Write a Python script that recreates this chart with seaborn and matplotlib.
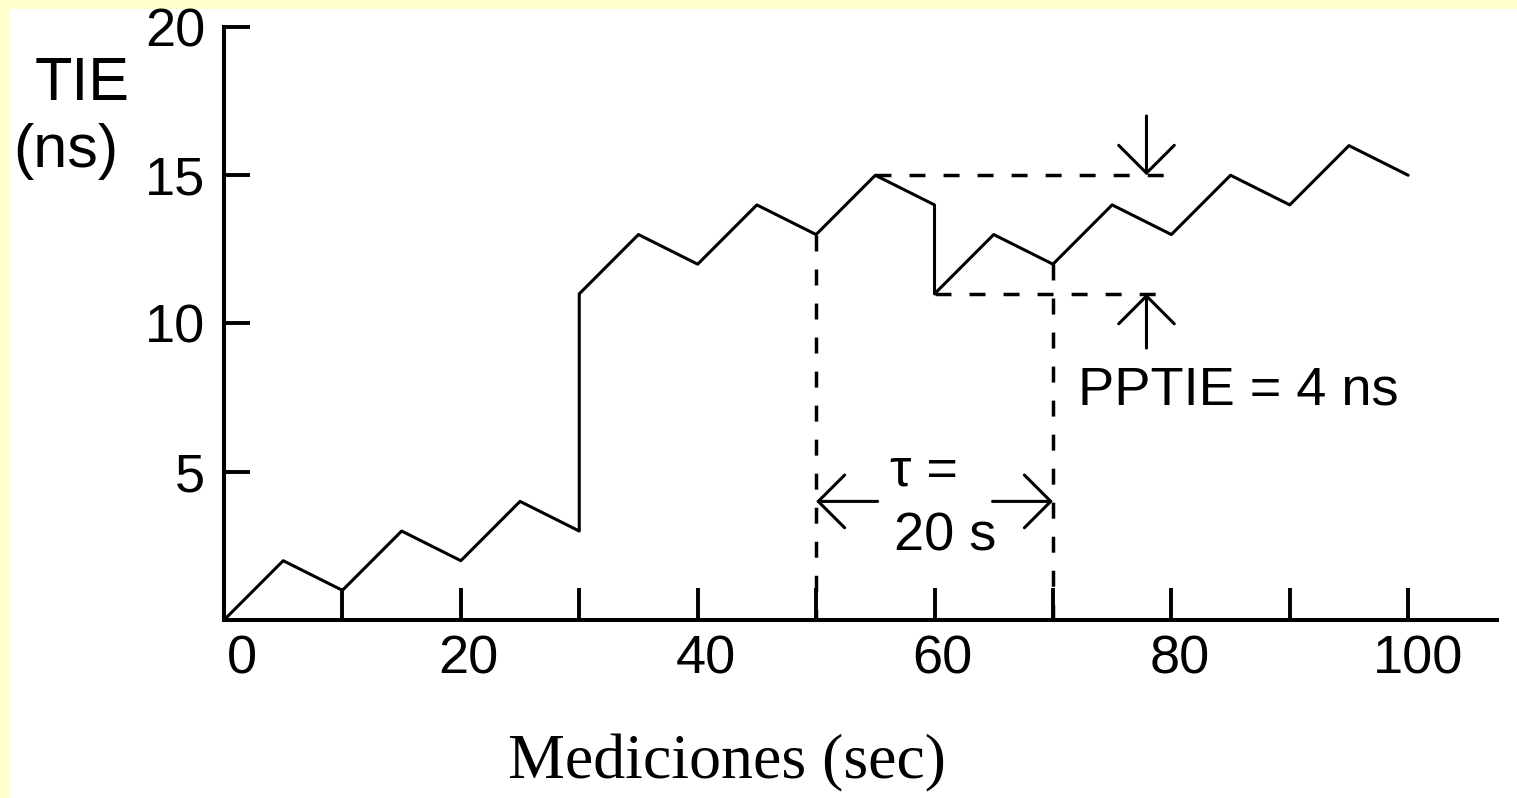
import matplotlib
matplotlib.use("Agg")
import matplotlib.pyplot as plt
import numpy as np
import pandas as pd
import seaborn as sns
from matplotlib.patches import Rectangle
from matplotlib.transforms import ScaledTranslation

# ---- data ----
t_sec = [0, 5, 10, 15, 20, 25, 30, 30, 35, 40, 45, 50, 55, 60, 60, 65, 70, 75, 80, 85, 90, 95, 100]
tie_ns = [0, 2, 1, 3, 2, 4, 3, 11, 13, 12, 14, 13, 15, 14, 11, 13, 12, 14, 13, 15, 14, 16, 15]
x_major = [0, 20, 40, 60, 80, 100]
x_minor = [10, 30, 50, 70, 90]
y_ticks = [5, 10, 15, 20]
y_labels = ["5", "10", "15", "20"]

tau_start, tau_end = 50, 70
tie_tau_start, tie_tau_end = 13, 12
pp_max_x, pp_max = 55, 15
pp_min_x, pp_min = 60, 11
pptie = 4
tau = 20

sns.set_theme(style="white")
plt.rcParams["font.family"] = ["Liberation Sans", "DejaVu Sans"]
plt.rcParams["lines.scale_dashes"] = False

W, H = 1517, 798
fig = plt.figure(figsize=(W / 100, H / 100), dpi=100)
fig.patch.set_facecolor("#FFFFCC")
fig.add_artist(Rectangle((10 / W, 0), 1, 1 - 9 / H, transform=fig.transFigure,
                         facecolor="white", edgecolor="none", zorder=-10))

ax = fig.add_axes([224 / W, 178 / H, 1273 / W, 593 / H])
ax.set_facecolor("none")

df = pd.DataFrame({"t": t_sec, "tie": tie_ns})
sns.lineplot(data=df, x="t", y="tie", estimator=None, sort=False,
             color="black", lw=2.2, ax=ax)

ax.set_xlim(0, 107.5)
ax.set_ylim(0, 20)
ax.set_xlabel("")
ax.set_ylabel("")

for s in ["top", "right"]:
    ax.spines[s].set_visible(False)
for s in ["left", "bottom"]:
    ax.spines[s].set_linewidth(2.9)
    ax.spines[s].set_color("black")

ax.set_xticks(x_major)
ax.set_xticklabels([str(v) for v in x_major])
ax.set_xticks(x_minor, minor=True)
ax.set_yticks(y_ticks)
ax.set_yticklabels(y_labels)
ax.tick_params(axis="x", which="both", bottom=True, direction="in", length=23,
               width=2.8, color="black", labelcolor="black", labelsize=39, pad=10.5)
ax.tick_params(axis="y", which="both", left=True, direction="in", length=19,
               width=2.8, color="black", labelcolor="black", labelsize=39, pad=13.5)

offsets = [18, 8, 8, 8, 8, 10]
for lbl, dx in zip(ax.get_xticklabels(), offsets):
    lbl.set_transform(lbl.get_transform() + ScaledTranslation(dx / 100, 0, fig.dpi_scale_trans))

dash = (0, (11.5, 13))
dkw = dict(color="black", lw=2.5, linestyle=dash)
ax.plot([tau_start, tau_start], [tie_tau_start, 0], **dkw)
ax.plot([tau_end, tau_end], [tie_tau_end, 0], **dkw)
ax.plot([pp_max_x, 79.9], [pp_max, pp_max], **dkw)
ax.plot([pp_min_x, 78.8], [pp_min, pp_min], **dkw)

akw = dict(arrowstyle="->,head_length=1,head_width=1", mutation_scale=20,
           lw=2.2, color="black", shrinkA=0, shrinkB=0)
ax.annotate("", xy=(77.9, pp_max), xytext=(77.9, 17), arrowprops=akw)
ax.annotate("", xy=(77.9, pp_min), xytext=(77.9, 9.17), arrowprops=akw)
akw2 = dict(akw, mutation_scale=19)
ax.annotate("", xy=(tau_start, 4), xytext=(55.2, 4), arrowprops=akw2)
ax.annotate("", xy=(tau_end, 4), xytext=(64.9, 4), arrowprops=akw2)

ax.text(72.1, 7.28, f"PPTIE = {pptie} ns", fontsize=39, color="black",
        ha="left", va="baseline")
ax.text(56.25, 4.55, "τ =", fontsize=39, color="black", ha="left", va="baseline")
ax.text(56.6, 2.36, f"{tau} s", fontsize=39, color="black", ha="left", va="baseline")

fig.text(35 / W, 1 - 100 / H, "TIE", fontsize=44, color="black", va="baseline")
fig.text(13 / W, 1 - 167 / H, "(ns)", fontsize=44, color="black", va="baseline")
fig.text(727 / W, 20 / H, "Mediciones (sec)", family=["Liberation Serif"],
         fontsize=46, color="black", ha="center", va="baseline")

fig.savefig("out.png", dpi=100, facecolor=fig.get_facecolor())
